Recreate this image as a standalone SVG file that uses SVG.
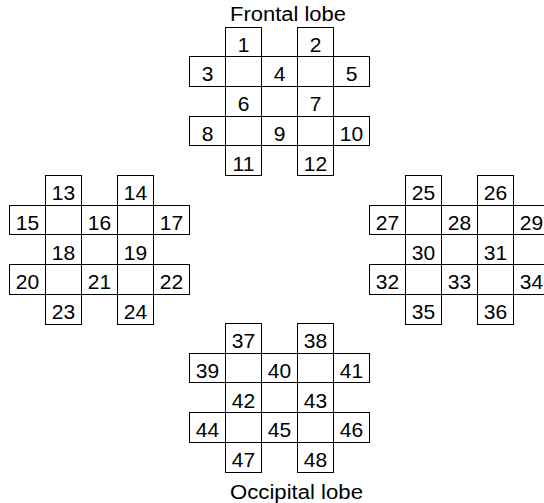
<svg xmlns="http://www.w3.org/2000/svg" width="544" height="503" viewBox="0 0 544 503">
<style>
.g rect{fill:none;stroke:#000;stroke-width:1;shape-rendering:crispEdges}
text{font-family:"Liberation Sans",Arial,sans-serif;font-size:20px;fill:#000}
.n text{text-anchor:middle;font-size:21px}
</style>
<defs>
<g id="grid" class="g">
<rect x="36" y="0" width="36" height="148.5"/>
<rect x="108" y="0" width="36" height="148.5"/>
<rect x="0" y="29.7" width="180" height="29.7"/>
<rect x="0" y="89.1" width="180" height="29.7"/>
</g>
</defs>
<rect width="544" height="503" fill="#fff"/>
<text id="frontal-label" x="230" y="21" textLength="116" lengthAdjust="spacingAndGlyphs">Frontal lobe</text>
<text id="occipital-label" x="230" y="499" textLength="133" lengthAdjust="spacingAndGlyphs">Occipital lobe</text>
<g id="frontal" transform="translate(189.5,27)">
<use href="#grid"/>
<g class="n">
<text x="54" y="24.7">1</text><text x="126" y="24.7">2</text>
<text x="18" y="54.4">3</text><text x="90" y="54.4">4</text><text x="162" y="54.4">5</text>
<text x="54" y="84.1">6</text><text x="126" y="84.1">7</text>
<text x="18" y="113.8">8</text><text x="90" y="113.8">9</text><text x="162" y="113.8">10</text>
<text x="54" y="143.5">11</text><text x="126" y="143.5">12</text>
</g>
</g>
<g id="left" transform="translate(9.5,175.5)">
<use href="#grid"/>
<g class="n">
<text x="54" y="24.7">13</text><text x="126" y="24.7">14</text>
<text x="18" y="54.4">15</text><text x="90" y="54.4">16</text><text x="162" y="54.4">17</text>
<text x="54" y="84.1">18</text><text x="126" y="84.1">19</text>
<text x="18" y="113.8">20</text><text x="90" y="113.8">21</text><text x="162" y="113.8">22</text>
<text x="54" y="143.5">23</text><text x="126" y="143.5">24</text>
</g>
</g>
<g id="right" transform="translate(369.5,175.5)">
<use href="#grid"/>
<g class="n">
<text x="54" y="24.7">25</text><text x="126" y="24.7">26</text>
<text x="18" y="54.4">27</text><text x="90" y="54.4">28</text><text x="162" y="54.4">29</text>
<text x="54" y="84.1">30</text><text x="126" y="84.1">31</text>
<text x="18" y="113.8">32</text><text x="90" y="113.8">33</text><text x="162" y="113.8">34</text>
<text x="54" y="143.5">35</text><text x="126" y="143.5">36</text>
</g>
</g>
<g id="occipital" transform="translate(189.5,323.5)">
<use href="#grid"/>
<g class="n">
<text x="54" y="24.7">37</text><text x="126" y="24.7">38</text>
<text x="18" y="54.4">39</text><text x="90" y="54.4">40</text><text x="162" y="54.4">41</text>
<text x="54" y="84.1">42</text><text x="126" y="84.1">43</text>
<text x="18" y="113.8">44</text><text x="90" y="113.8">45</text><text x="162" y="113.8">46</text>
<text x="54" y="143.5">47</text><text x="126" y="143.5">48</text>
</g>
</g>
<g id="connectors"/>
</svg>
